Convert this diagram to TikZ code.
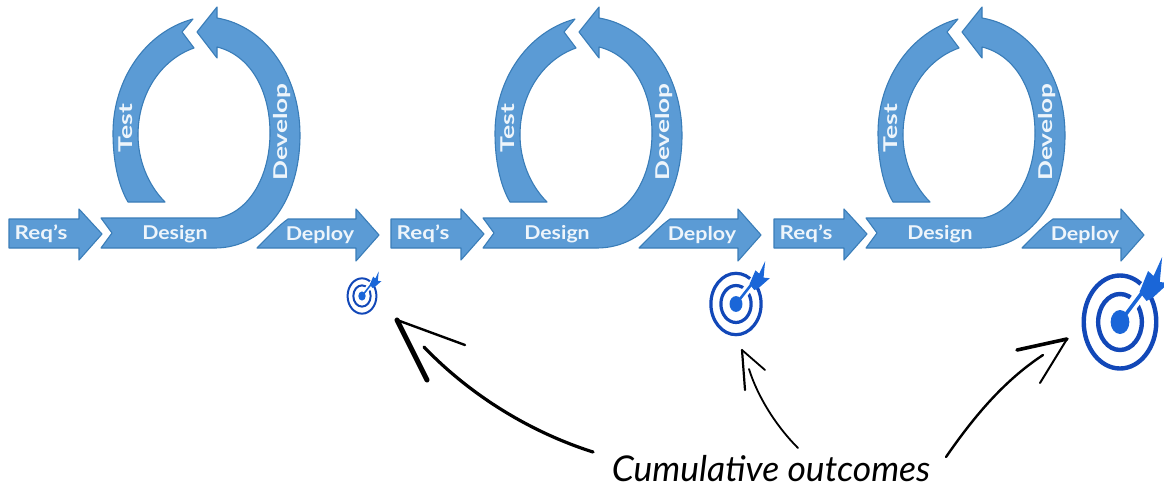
\documentclass[tikz,border=0pt]{standalone}
\usepackage{fontspec}
\setmainfont{Lato}
\definecolor{flowblue}{HTML}{5B9BD5}
\definecolor{flowedge}{HTML}{3A7DB8}
\definecolor{flowtext}{HTML}{EEF5FB}
\definecolor{targetblue}{HTML}{1248B8}
\definecolor{dartblue}{HTML}{1A66D8}
\tikzset{
  flowshape/.style={fill=flowblue,draw=flowedge,line width=1.1pt,line join=round},
  flowlabel/.style={text=flowtext,font=\fontsize{19}{21}\selectfont\bfseries,inner sep=0pt},
  ringline/.style={draw=targetblue,fill=none},
  handline/.style={draw=black,line cap=round,line join=round},
  caption/.style={font=\fontsize{35.5}{38}\selectfont\itshape,inner sep=0pt,text=black}
}
% #1 name, #2 x, #3 y, #4 rx, #5 ry, #6 ring width
\newcommand{\targetmark}[6]{%
  \coordinate (#1) at (#2,#3);
  \begin{scope}[shift={(#2,#3)},xscale=#4,yscale=#5]
    \draw[ringline,line width=#6] (0,0) circle (0.93);
    \draw[ringline,line width=#6] (0,0) circle (0.56);
    \draw[white,line width=2.6*#6] (0.1,-0.12) -- (0.9,-0.95);
    \fill[dartblue] (0,0) circle (0.24);
    \draw[dartblue,line width=0.8*#6] (0,0) -- (0.75,-0.78);
    \fill[dartblue] (0.5,-0.6) -- (0.72,-1.02) -- (0.86,-0.92) -- (1.08,-1.3) -- (1.02,-0.8) -- (1.25,-0.78) -- (0.86,-0.5) -- (0.68,-0.42) -- cycle;
  \end{scope}}
\begin{document}
\begin{tikzpicture}[x=1pt,y=-1pt]
\useasboundingbox (0,0) rectangle (1164,490);
\foreach \i/\dx in {1/0,2/382,3/765}{
  \begin{scope}[xshift=\dx pt]
    \path[flowshape] (9,219) -- (79,219) -- (79,209) -- (102,234) -- (79,260) -- (79,248) -- (9,248) -- cycle;
    \path[flowshape] (217,18) .. controls (265,26) and (300,75) .. (300,135)
      .. controls (300,200) and (265,248) .. (215,248) -- (101,248) -- (112,233) -- (101,218) -- (218,218)
      .. controls (250,212) and (270,175) .. (270,133)
      .. controls (270,90) and (250,55) .. (217,47)
      -- (217,58) -- (197,32) -- (217,7) -- cycle;
    \path[flowshape] (193,19) .. controls (145,32) and (113,80) .. (113,133)
      .. controls (113,160) and (118,185) .. (128,202) -- (165,202)
      .. controls (148,185) and (138,160) .. (138,135)
      .. controls (138,95) and (160,60) .. (194,48) -- (182,32) -- cycle;
    \path[flowshape] (257,248) .. controls (268,237) and (278,226) .. (288,219) -- (356,219) -- (356,209) -- (379,235) -- (356,261) -- (356,248) -- cycle;
    \node[flowlabel] (req\i) at (41,234) {\scalebox{1.18}[1]{Req's}};
    \node[flowlabel] (design\i) at (175,234) {\scalebox{1.12}[1]{Design}};
    \node[flowlabel] (deploy\i) at (320,235) {\scalebox{1.13}[1]{Deploy}};
    \node[flowlabel,rotate=90] (test\i) at (126,128) {\scalebox{1.4}[1]{Test}};
    \node[flowlabel,rotate=90] (develop\i) at (282,132) {\scalebox{1.38}[1]{Develop}};
  \end{scope}
}
\targetmark{goalA}{362}{296}{15.5}{19}{2pt}
\targetmark{goalB}{736}{304}{27}{33}{3.2pt}
\targetmark{goalC}{1120}{322}{39}{50}{4.4pt}
\node[caption] (cap) at (771,469) {Cumulative outcomes};
% hand-drawn arrows
\coordinate (tipA) at (397,320);
\coordinate (tipB) at (742,350);
\coordinate (tipC) at (1067,339);
\coordinate (startA) at ([xshift=-178pt,yshift=17pt]cap.center);
\coordinate (startB) at ([xshift=27pt,yshift=21pt]cap.center);
\coordinate (startC) at ([xshift=175pt,yshift=12pt]cap.center);
\draw[handline,line width=3.2pt] (startA) .. controls (530,432) and (470,395) .. (424,347);
\draw[handline,line width=2.4pt] (tipA) -- (465,345);
\draw[handline,line width=5pt] (tipA) -- (427,380);
\draw[handline,line width=1.8pt] (startB) .. controls (775,425) and (757,395) .. (749,369);
\draw[handline,line width=1.8pt] (tipB) -- (765,370);
\draw[handline,line width=2.2pt] (tipB) -- (745,390);
\draw[handline,line width=2.4pt] (startC) .. controls (975,415) and (1005,380) .. (1043,355);
\draw[handline,line width=3.6pt] (tipC) -- (1017,350);
\draw[handline,line width=2pt] (tipC) -- (1040,383);
\end{tikzpicture}
\end{document}
